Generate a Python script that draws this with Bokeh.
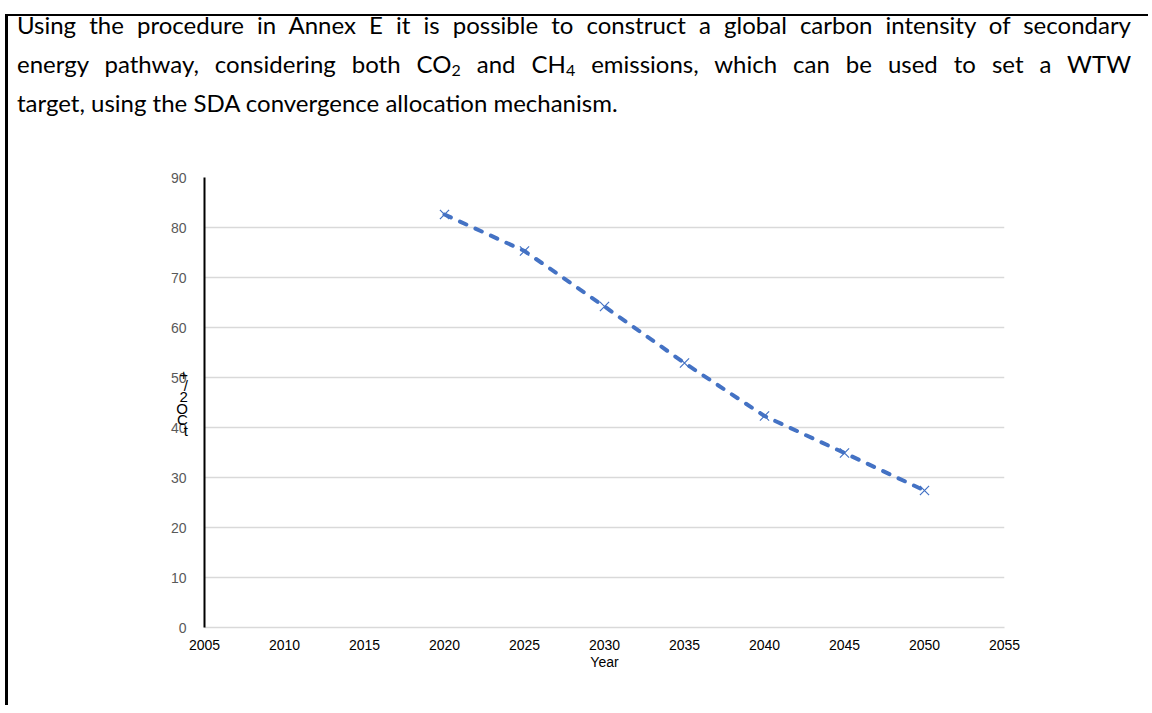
from bokeh.plotting import figure
from bokeh.models import Div, FixedTicker, Range1d, Spacer
from bokeh.layouts import column, row
from bokeh.embed import file_html
from bokeh.resources import INLINE

# ---- data ----
years = [2020, 2025, 2030, 2035, 2040, 2045, 2050]
intensity = [82.6, 75.3, 64.2, 52.9, 42.3, 34.9, 27.4]
x_ticks = [2005, 2010, 2015, 2020, 2025, 2030, 2035, 2040, 2045, 2050, 2055]
y_ticks = [0, 10, 20, 30, 40, 50, 60, 70, 80, 90]
x_label = "Year"
y_label_chars = ["+", "/", "2", "O", "C", "t"]

para_lines = [
    "Using the procedure in Annex E it is possible to construct a global carbon intensity of secondary",
    "energy pathway, considering both CO<sub>2</sub> and CH<sub>4</sub> emissions, which can be used to set a WTW",
    "target, using the SDA convergence allocation mechanism.",
]

BLUE = "#4472C4"
GRID = "#d9d9d9"

line_css = ("font-family:Lato,'Noto Sans',sans-serif;font-size:24px;color:#000;"
            "line-height:39px;")
html = "<div style=\"margin-top:-16px;padding-left:4px;padding-right:4px;width:1122px;\">"
for i, ln in enumerate(para_lines):
    last = "justify" if i < len(para_lines) - 1 else "left"
    html += (f"<div style=\"{line_css}text-align:justify;text-align-last:{last};"
             f"white-space:nowrap;\">{ln}</div>")
html += "</div>"
html = html.replace("<sub>", "<sub style=\"font-size:16px;vertical-align:-3px;line-height:0;\">")

div = Div(text=html, width=1130, height=144)

p = figure(width=1130, height=535, output_backend="svg", toolbar_location=None,
           x_range=Range1d(2005, 2055), y_range=Range1d(0, 90))
p.min_border_left = 196
p.min_border_right = 134
p.min_border_top = 7
p.min_border_bottom = 78
p.outline_line_color = None
p.background_fill_color = "white"
p.border_fill_color = "white"

p.xgrid.grid_line_color = None
p.ygrid.grid_line_color = GRID
p.ygrid.grid_line_width = 1.5

p.xaxis.ticker = FixedTicker(ticks=x_ticks)
p.yaxis.ticker = FixedTicker(ticks=y_ticks)
for ax in (p.xaxis, p.yaxis):
    ax.major_tick_line_color = None
    ax.minor_tick_line_color = None
    ax.major_label_text_font = "Liberation Sans"
    ax.major_label_text_font_size = "14px"
p.xaxis.axis_line_color = GRID
p.xaxis.axis_line_width = 1.5
p.xaxis.major_label_text_color = "#000000"
p.xaxis.major_label_standoff = 6
p.xaxis.axis_label = x_label
p.xaxis.axis_label_text_font = "Liberation Sans"
p.xaxis.axis_label_text_font_size = "14px"
p.xaxis.axis_label_text_font_style = "normal"
p.xaxis.axis_label_text_color = "#000000"
p.xaxis.axis_label_standoff = 1

p.yaxis.axis_line_color = "#000000"
p.yaxis.axis_line_width = 2
p.yaxis.major_label_text_color = "#595959"
p.yaxis.major_label_standoff = 12
p.yaxis.axis_label = "\n".join(y_label_chars)
p.yaxis.axis_label_orientation = "horizontal"
p.yaxis.axis_label_text_font = "Liberation Sans"
p.yaxis.axis_label_text_font_size = "15px"
p.yaxis.axis_label_text_font_style = "normal"
p.yaxis.axis_label_text_color = "#000000"
p.yaxis.axis_label_text_line_height = 0.65
p.yaxis.axis_label_standoff = -20

p.line(years, intensity, line_color=BLUE, line_width=4, line_dash="7 10", line_cap="round")
p.scatter(years, intensity, marker="x", size=13, line_color=BLUE, line_width=1.2)

inner = column(div, p, styles={"border-top": "2px solid #000", "border-left": "3px solid #000",
                               "margin-top": "14px"})
layout = row(Spacer(width=5), inner)

open("out.html", "w").write(file_html(layout, INLINE))
